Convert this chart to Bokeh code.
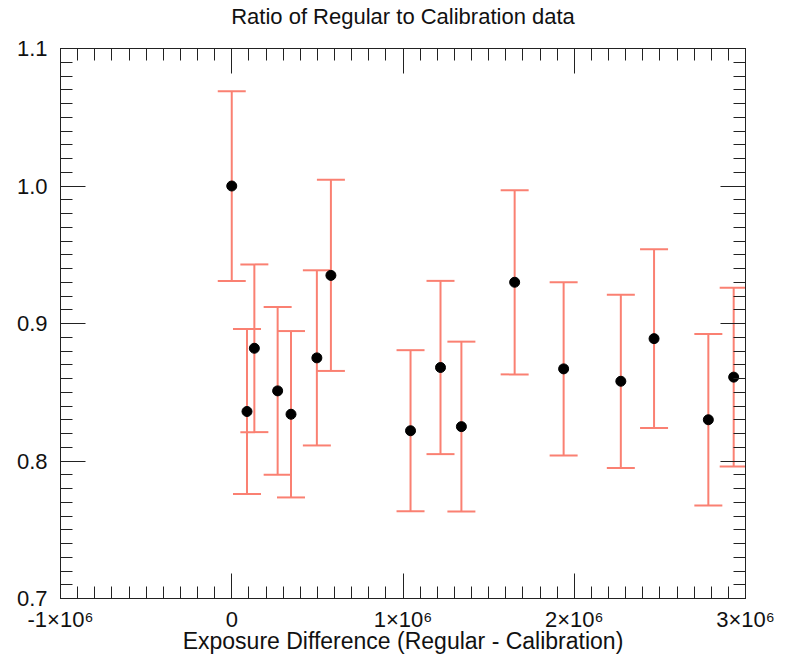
from bokeh.plotting import figure
from bokeh.models import (Range1d, SingleIntervalTicker, LinearAxis, Whisker, TeeHead,
                          ColumnDataSource, CustomJSTickFormatter, NumeralTickFormatter)
from bokeh.embed import file_html
from bokeh.resources import INLINE

# ---- data ----
x_vals = [0, 89000, 132000, 268000, 346000, 497000, 579000, 1044000, 1219000,
          1341000, 1652000, 1938000, 2272000, 2466000, 2783000, 2931000]
y_vals = [1.000, 0.836, 0.882, 0.851, 0.834, 0.875, 0.935, 0.822, 0.868,
          0.825, 0.930, 0.867, 0.858, 0.889, 0.830, 0.861]
err_vals = [0.069, 0.060, 0.061, 0.061, 0.0605, 0.0637, 0.0695, 0.0586, 0.063,
            0.0618, 0.067, 0.063, 0.063, 0.065, 0.0623, 0.065]
x_tick_values = [-1000000, 0, 1000000, 2000000, 3000000]
x_tick_labels = ["-1\u00d710\u2076", "0", "1\u00d710\u2076", "2\u00d710\u2076", "3\u00d710\u2076"]

title_text = "Ratio of Regular to Calibration data"
x_label = "Exposure Difference (Regular - Calibration)"

FONT = "Liberation Sans"
ERR_COLOR = "#FA8072"
AX_COLOR = "#222222"

src = ColumnDataSource(dict(
    x=x_vals, y=y_vals,
    upper=[y + e for y, e in zip(y_vals, err_vals)],
    lower=[y - e for y, e in zip(y_vals, err_vals)],
))

p = figure(width=792, height=656, output_backend="svg", toolbar_location=None,
           x_range=Range1d(-1e6, 3e6), y_range=Range1d(0.7, 1.1),
           min_border_left=60, min_border_right=47, min_border_top=48, min_border_bottom=0)

bottom_ax = p.below[0]
left_ax = p.left[0]

p.title.text = title_text
p.title.align = "center"
p.title.text_font = FONT
p.title.text_font_size = "22px"
p.title.text_font_style = "normal"
p.title.text_color = "#111111"
p.title.standoff = 2

p.xgrid.visible = False
p.ygrid.visible = False
p.outline_line_color = AX_COLOR
p.background_fill_color = "white"
p.border_fill_color = "white"

whisk = Whisker(source=src, base="x", upper="upper", lower="lower",
                line_color=ERR_COLOR, line_width=2,
                upper_head=TeeHead(size=28, line_color=ERR_COLOR, line_width=2),
                lower_head=TeeHead(size=28, line_color=ERR_COLOR, line_width=2))
whisk.level = "underlay"
p.add_layout(whisk)

p.scatter("x", "y", source=src, size=10, color="black")

top_ax = LinearAxis()
right_ax = LinearAxis()
p.add_layout(top_ax, "above")
p.add_layout(right_ax, "right")

for ax in [bottom_ax, top_ax]:
    ax.ticker = SingleIntervalTicker(interval=1e6, num_minor_ticks=10)
for ax in [left_ax, right_ax]:
    ax.ticker = SingleIntervalTicker(interval=0.1, num_minor_ticks=10)

for ax in [bottom_ax, left_ax, top_ax, right_ax]:
    ax.major_tick_in = 25
    ax.major_tick_out = 0
    ax.minor_tick_in = 12
    ax.minor_tick_out = 0
    ax.axis_line_color = AX_COLOR
    ax.major_tick_line_color = AX_COLOR
    ax.minor_tick_line_color = AX_COLOR
    ax.major_label_text_font = FONT
    ax.major_label_text_font_size = "22px"
    ax.major_label_text_color = "#111111"

for ax in [top_ax, right_ax]:
    ax.formatter = CustomJSTickFormatter(code="return ''")
    ax.major_label_standoff = 0

# spacer label on the top axis: keeps the title up at the top of the page
top_ax.axis_label = " "
top_ax.axis_label_text_font = FONT
top_ax.axis_label_text_font_size = "10px"
top_ax.axis_label_standoff = 5

bottom_ax.major_label_overrides = {v: s for v, s in zip(x_tick_values, x_tick_labels)}
bottom_ax.major_label_standoff = 8
bottom_ax.axis_label = x_label
bottom_ax.axis_label_text_font = FONT
bottom_ax.axis_label_text_font_size = "23px"
bottom_ax.axis_label_text_font_style = "normal"
bottom_ax.axis_label_text_color = "#111111"
bottom_ax.axis_label_standoff = -7

left_ax.formatter = NumeralTickFormatter(format="0.0")
left_ax.major_label_standoff = 13

open("out.html", "w").write(file_html(p, INLINE))
